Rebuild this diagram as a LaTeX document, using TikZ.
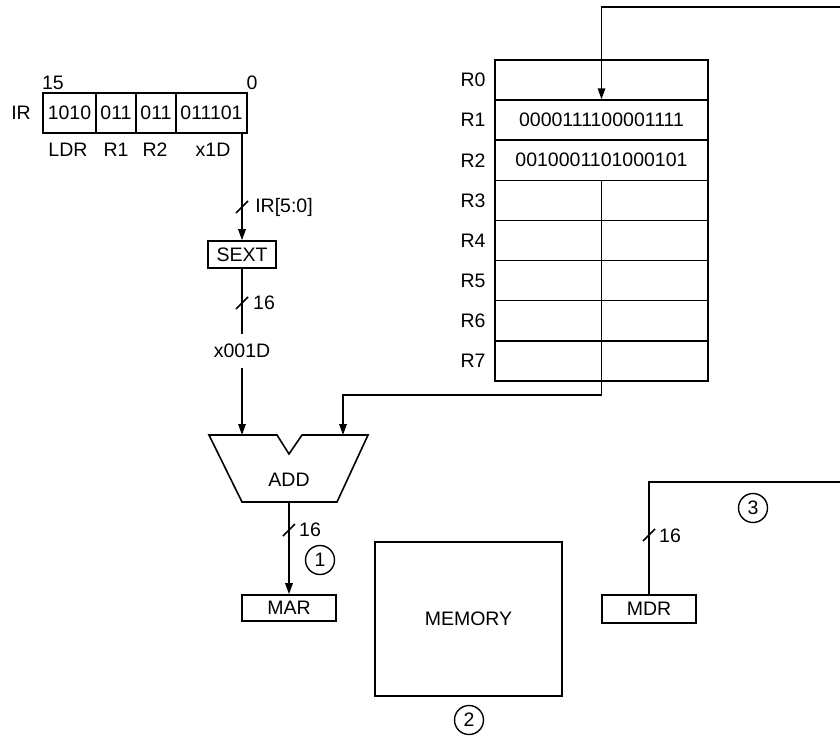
\documentclass[tikz,border=0pt]{standalone}
\usepackage{fontspec}
\setmainfont{Liberation Sans}
\usetikzlibrary{arrows.meta}
\begin{document}
\begin{tikzpicture}[x=1pt,y=-1pt,line width=1.6pt,
  font=\fontsize{19.5}{21}\selectfont,
  box/.style={draw,inner sep=0pt},
  arr/.style={-{Triangle[length=11pt,width=7.5pt]}},
  num/.style={draw,circle,minimum size=29pt,inner sep=0pt,line width=1.4pt},
  slashmark/.style={line width=1.5pt}]
\useasboundingbox (0,0) rectangle (840,738);

% IR
\node (irl) at (21,113) {IR};
\node (b15) at (53,83) {15};
\node (b0) at (252,83) {0};
\node[box,minimum width=53pt,minimum height=40pt] (f1) at (69.5,113) {1010};
\node[box,minimum width=40pt,minimum height=40pt] (f2) at (116,113) {011};
\node[box,minimum width=40pt,minimum height=40pt] (f3) at (156,113) {011};
\node[box,minimum width=71pt,minimum height=40pt] (f4) at (211.5,113) {011101};
\node (lldr) at (68,150) {LDR};
\node (lr1) at (116,150) {R1};
\node (lr2) at (155,150) {R2};
\node (lx1d) at (213,150) {x1D};

% SEXT
\coordinate (irout) at (242,133);
\node[box,minimum width=68pt,minimum height=27pt] (sext) at (242,254.5) {SEXT};
\draw[arr] (irout) -- (sext);
\draw[slashmark] (236,213) -- (248,201);
\node (lir50) at (284,207) {IR[5:0]};
\node[inner ysep=9pt] (x001d) at (242,351) {x001D};
\draw (sext) -- (x001d);
\draw[slashmark] (236,309) -- (248,297);
\node (l16a) at (264,303) {16};

% ADD
\coordinate (addL) at (242,435);
\coordinate (addR) at (343,435);
\coordinate (addO) at (289,502);
\draw[line join=miter] (209,435) -- (277,435) -- (289,454) -- (302,435) -- (368,435) -- (337,502) -- (242,502) -- cycle;
\node (add) at (289,480) {ADD};
\draw[arr] (x001d) -- (addL);

% MAR
\node[box,minimum width=94pt,minimum height=26pt] (mar) at (289,608) {MAR};
\draw[arr] (addO) -- (mar);
\draw[slashmark] (283,536) -- (295,524);
\node (l16b) at (310,530) {16};
\node[num] (c1) at (320,560) {1};

% MEMORY
\node[box,minimum width=187pt,minimum height=154pt] (mem) at (468.5,619) {MEMORY};
\node[num] (c2) at (469,720) {2};

% MDR
\node[box,minimum width=94pt,minimum height=28pt] (mdr) at (649,609) {MDR};
\coordinate (mdrbus) at (840,482);
\draw (mdr.north) |- (mdrbus);
\draw[slashmark] (643,541) -- (655,529);
\node (l16c) at (670,536) {16};
\node[num] (c3) at (753,508) {3};

% Register file
\foreach \i in {0,...,7}{
  \pgfmathsetmacro{\yy}{80+40.125*\i}
  \node[box,minimum width=213pt,minimum height=40.125pt] (r\i) at (601.5,\yy) {};
  \node (rl\i) at (473,\yy) {R\i};
}
\node (v1) at (r1) {0000111100001111};
\node (v2) at (r2) {0010001101000101};

% connections to/from register file
\coordinate (topbus) at (840,7);
\draw[arr] (topbus) -| (r1.north);
\coordinate (rbend) at (601.5,395);
\draw[arr] (r2.south) -- (rbend) -| (addR);
\end{tikzpicture}
\end{document}
